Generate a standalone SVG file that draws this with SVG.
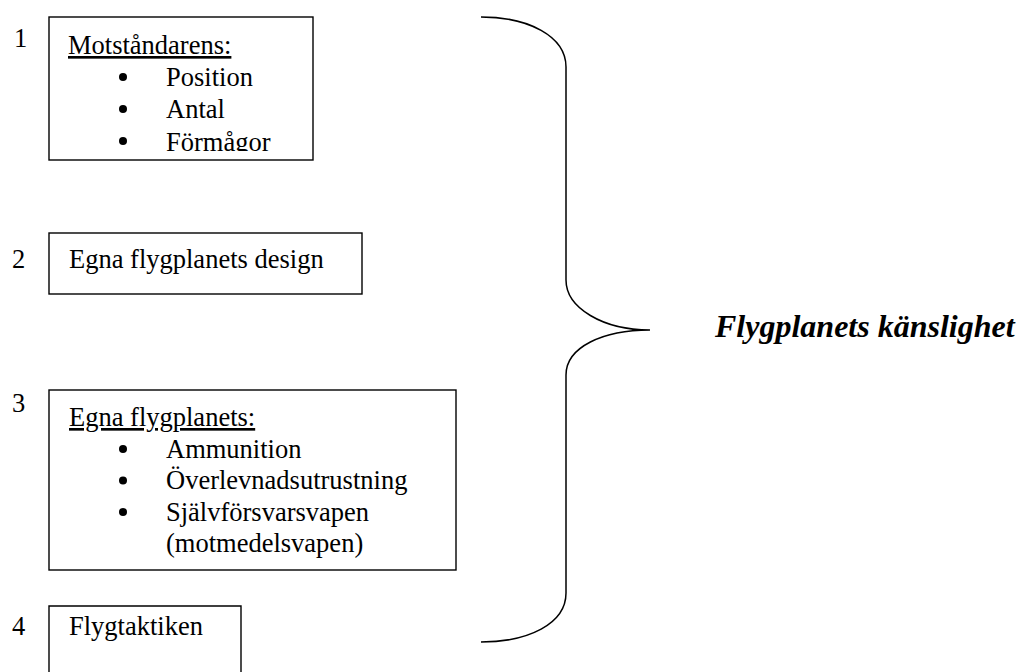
<svg xmlns="http://www.w3.org/2000/svg" width="1019" height="672" viewBox="0 0 1019 672" font-family="'Liberation Serif', 'DejaVu Serif', serif">
  <style>
    text { font-family: 'Liberation Serif', 'DejaVu Serif', serif; font-size: 26.5px; fill: #000; }
    .box { fill: #fff; stroke: #000; stroke-width: 1.4; }
    .ul { text-decoration: underline; }
    .title { font-size: 32px; font-weight: bold; font-style: italic; }
    .bul { fill: #000; }
    .brace { fill: none; stroke: #000; stroke-width: 1.5; }
  </style>
  <defs>
    <clipPath id="clip1"><rect x="50" y="18" width="262" height="133"/></clipPath>
  </defs>
  <rect width="1019" height="672" fill="#fff"/>

  <g id="node1">
    <text x="14" y="47">1</text>
    <rect class="box" x="49" y="17" width="264" height="143"/>
    <g clip-path="url(#clip1)">
      <text x="68" y="54" class="ul">Motståndarens:</text>
      <circle class="bul" cx="123" cy="77" r="4"/>
      <text x="166" y="86">Position</text>
      <circle class="bul" cx="123" cy="109" r="4"/>
      <text x="166" y="118">Antal</text>
      <circle class="bul" cx="123" cy="141" r="4"/>
      <text x="166" y="151">Förmågor</text>
    </g>
  </g>

  <g id="node2">
    <text x="12" y="268">2</text>
    <rect class="box" x="49" y="233" width="313" height="61"/>
    <text x="69" y="268">Egna flygplanets design</text>
  </g>

  <g id="node3">
    <text x="12" y="412">3</text>
    <rect class="box" x="49" y="390" width="407" height="180"/>
    <text x="69" y="426" class="ul">Egna flygplanets:</text>
    <circle class="bul" cx="123" cy="449" r="4"/>
    <text x="166" y="457.5">Ammunition</text>
    <circle class="bul" cx="123" cy="480.5" r="4"/>
    <text x="166" y="489">Överlevnadsutrustning</text>
    <circle class="bul" cx="123" cy="512" r="4"/>
    <text x="166" y="520.5">Självförsvarsvapen</text>
    <text x="166" y="552">(motmedelsvapen)</text>
  </g>

  <g id="node4">
    <text x="12" y="635">4</text>
    <path class="box" d="M49,680 L49,606 L241,606 L241,680"/>
    <text x="69" y="635">Flygtaktiken</text>
  </g>

  <g id="connectors">
    <path class="brace" d="M481,17 C528,17 566,36 566,67 L566,280 C566,308 603,330 650,330 C603,330 566,347 566,375 L566,593 C566,624 528,642 481,642"/>
  </g>

  <g id="node5">
    <text x="715" y="337" class="title">Flygplanets känslighet</text>
  </g>
</svg>
